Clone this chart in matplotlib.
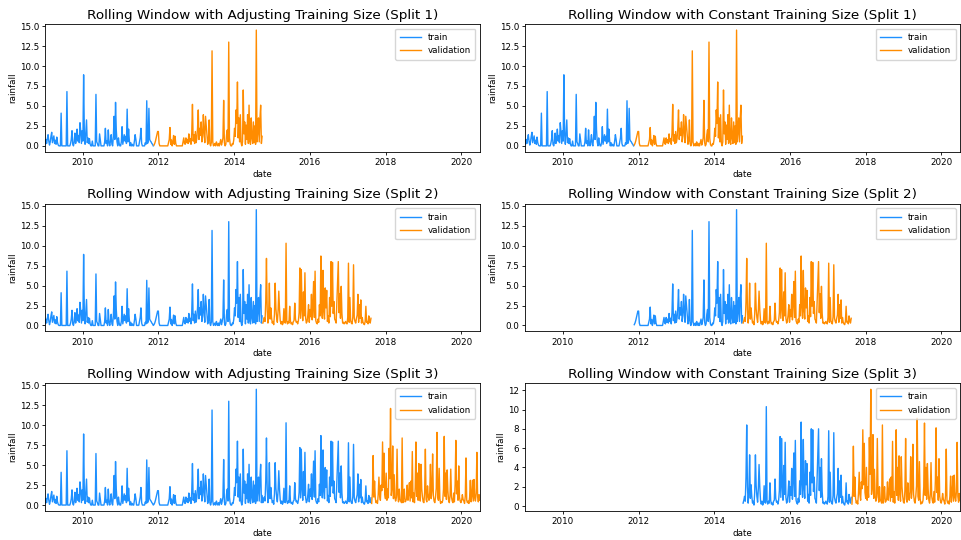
import matplotlib
matplotlib.use("Agg")
import matplotlib.pyplot as plt
import matplotlib.dates as mdates
import numpy as np
import pandas as pd

# Weekly mean rainfall, in four consecutive 150-week blocks
start_date = "2009-01-04"
block1 = [0.2, 0.8, 0.3, 0.9, 1.4, 0.6, 0.1, 0.5, 1.2, 1.7, 0.4, 0.8, 1.25, 0.3, 0.7, 0.2, 1.1, 0.4, 0.1, 0.0,
          0.0, 0.0, 4.1, 0.0, 0.0, 0.0, 0.0, 0.0, 0.0, 0.0, 6.8, 0.0, 0.0, 0.0, 0.0, 0.3, 0.8, 1.9, 0.2, 0.0,
          0.5, 1.6, 0.3, 0.9, 2.1, 0.6, 1.3, 0.4, 2.9, 1.8, 0.3, 1.9, 0.6, 8.9, 1.5, 0.2, 1.8, 3.25, 0.4, 1.0,
          0.3, 0.9, 0.2, 0.0, 0.0, 0.6, 0.0, 0.0, 0.0, 0.0, 6.45, 0.5, 0.3, 0.0, 0.0, 1.5, 0.8, 0.0, 0.0, 0.0,
          0.0, 0.0, 0.5, 2.2, 0.3, 0.6, 0.0, 2.0, 0.4, 0.0, 0.6, 1.4, 0.2, 0.0, 1.2, 3.7, 0.8, 5.45, 2.0, 0.5,
          0.0, 1.0, 0.3, 0.0, 0.0, 0.5, 2.4, 0.2, 0.8, 1.4, 0.6, 1.2, 0.3, 4.6, 0.5, 2.1, 0.7, 0.0, 0.4, 0.0,
          0.2, 0.0, 0.0, 0.6, 1.4, 0.8, 0.0, 0.0, 0.0, 0.0, 0.5, 1.0, 2.2, 0.3, 0.0, 0.0, 0.0, 0.0, 0.4, 0.2,
          5.65, 0.3, 0.5, 4.7, 0.8, 0.6, 0.5, 0.3, 0.2, 0.0]
block2 = [0.1, 0.3, 0.6, 1.0, 1.4, 1.8, 1.8, 0.3, 0.0, 0.0, 0.0, 0.0, 0.0, 0.0, 0.0, 0.0, 0.0, 0.0, 0.0, 0.0,
          0.4, 0.8, 2.3, 0.2, 0.75, 0.0, 0.5, 1.3, 0.2, 1.2, 0.3, 0.0, 0.0, 0.0, 0.0, 0.0, 0.0, 0.0, 0.0, 0.0,
          0.5, 1.0, 0.3, 0.2, 1.0, 0.4, 0.8, 0.3, 1.5, 0.5, 0.9, 0.2, 1.6, 5.2, 0.6, 1.4, 0.3, 1.8, 0.4, 0.9,
          2.2, 4.5, 0.8, 2.2, 1.3, 3.0, 0.5, 1.2, 3.9, 1.7, 0.4, 3.7, 2.5, 1.4, 0.2, 0.6, 3.25, 0.3, 0.0, 0.4,
          11.9, 0.5, 0.0, 0.1, 0.3, 0.0, 0.5, 0.2, 0.0, 0.3, 0.0, 0.4, 0.8, 0.1, 0.5, 1.0, 5.7, 0.4, 0.0, 0.2,
          1.4, 2.0, 0.5, 13.0, 1.0, 0.2, 0.0, 0.0, 0.3, 0.2, 0.8, 2.2, 1.2, 4.5, 2.8, 8.0, 1.0, 3.5, 0.5, 3.9,
          0.4, 0.0, 0.5, 7.0, 1.5, 3.0, 0.2, 2.6, 0.8, 3.9, 0.3, 5.1, 0.6, 0.2, 3.5, 1.0, 0.3, 3.0, 0.4, 2.5,
          0.2, 14.5, 0.5, 1.8, 3.5, 0.5, 3.4, 5.1, 0.3, 1.2]
block3 = [0.3, 0.6, 1.0, 0.5, 3.0, 8.4, 2.0, 0.3, 1.5, 5.3, 0.8, 2.2, 1.0, 0.3, 0.5, 0.1, 1.4, 5.3, 2.1, 1.0,
          0.4, 1.8, 4.3, 2.0, 0.6, 0.2, 0.5, 0.1, 0.3, 2.1, 0.4, 0.3, 10.3, 0.5, 0.2, 0.5, 0.3, 2.4, 0.6, 0.2,
          0.3, 0.1, 0.5, 0.6, 2.8, 0.8, 0.4, 0.5, 0.2, 0.6, 1.6, 7.2, 0.9, 7.0, 2.1, 0.6, 4.2, 1.2, 6.6, 0.9,
          0.3, 0.5, 1.3, 2.6, 0.4, 2.0, 1.1, 3.9, 0.7, 2.8, 5.5, 1.0, 6.8, 0.6, 0.3, 0.2, 0.8, 0.4, 2.6, 1.2,
          8.7, 2.3, 0.9, 6.9, 1.8, 0.8, 4.7, 2.2, 4.4, 0.5, 1.2, 0.3, 3.5, 1.1, 8.0, 2.4, 7.9, 1.5, 3.0, 0.8,
          0.6, 0.3, 3.0, 6.0, 8.0, 1.6, 4.0, 0.9, 4.9, 1.5, 0.3, 0.4, 0.2, 0.3, 0.5, 0.3, 0.2, 1.0, 7.8, 0.4,
          3.5, 0.6, 0.3, 0.2, 1.1, 7.6, 0.9, 0.5, 0.3, 0.9, 1.3, 3.9, 0.4, 2.6, 0.9, 3.2, 0.3, 1.0, 0.4, 0.2,
          0.1, 0.5, 2.4, 0.4, 0.5, 0.2, 1.2, 0.6, 0.3, 0.9]
block4 = [0.2, 1.5, 6.2, 1.0, 3.0, 0.8, 0.3, 0.5, 0.2, 1.3, 3.5, 1.2, 0.6, 2.5, 1.8, 7.9, 2.2, 6.5, 1.4, 0.8,
          4.0, 0.6, 2.0, 0.9, 7.1, 3.3, 12.1, 1.2, 2.0, 7.4, 0.8, 3.8, 1.0, 0.5, 0.9, 7.0, 1.3, 0.4, 2.0, 0.7,
          0.5, 0.3, 8.4, 0.3, 0.9, 2.0, 0.4, 0.5, 0.8, 2.5, 0.6, 1.4, 2.8, 0.5, 3.0, 0.9, 6.7, 0.4, 1.5, 0.3,
          2.2, 7.9, 1.1, 4.0, 0.6, 5.2, 1.3, 0.5, 5.1, 2.0, 1.0, 0.4, 0.3, 1.6, 7.0, 0.7, 0.4, 2.4, 1.1, 0.6,
          1.5, 5.1, 0.8, 1.8, 6.4, 1.2, 0.5, 0.3, 1.0, 2.1, 9.1, 1.0, 0.6, 4.6, 0.8, 0.2, 0.4, 0.3, 0.6, 2.0,
          8.6, 1.1, 4.0, 0.7, 4.4, 1.8, 0.6, 0.3, 1.2, 4.5, 1.0, 0.5, 0.3, 1.5, 0.4, 2.6, 8.1, 1.4, 3.0, 0.6,
          4.9, 1.0, 0.5, 0.3, 0.6, 1.3, 0.7, 0.5, 0.2, 1.1, 5.9, 0.6, 0.3, 0.5, 0.2, 1.0, 3.1, 0.4, 1.2, 3.1,
          0.5, 3.2, 0.9, 0.5, 1.5, 6.6, 1.0, 0.4, 1.3, 0.6]

blocks = [block1, block2, block3, block4]
n_total = sum(len(b) for b in blocks)
dates = pd.date_range(start_date, periods=n_total, freq="7D")
series = pd.Series(np.concatenate(blocks), index=dates)

bounds = np.cumsum([0] + [len(b) for b in blocks])

train_color = "#1E90FF"
val_color = "#FF8C00"

fs = 6.3
fig, axes = plt.subplots(3, 2, figsize=(9.61, 5.40), dpi=100)
fig.subplots_adjust(left=0.047, right=0.999, top=0.955, bottom=0.054, wspace=0.105, hspace=0.41)

for k in range(1, 4):
    val = series.iloc[bounds[k]:bounds[k + 1]]
    for col, (mode, t0) in enumerate([("Adjusting", 0), ("Constant", bounds[k - 1])]):
        ax = axes[k - 1, col]
        train = series.iloc[t0:bounds[k]]
        ax.plot(train.index, train.values, color=train_color, lw=1.0, label="train")
        ax.plot(val.index, val.values, color=val_color, lw=1.0, label="validation")
        ax.set_xlim(dates[0], dates[-1])
        ax.xaxis.set_major_locator(mdates.YearLocator(2))
        ax.xaxis.set_major_formatter(mdates.DateFormatter("%Y"))
        ax.set_title(f"Rolling Window with {mode} Training Size (Split {k})", fontsize=9.7, pad=4)
        ax.set_xlabel("date", fontsize=fs, labelpad=2)
        ax.set_ylabel("rainfall", fontsize=fs, labelpad=2)
        ax.tick_params(labelsize=fs, length=2.5, width=0.6, pad=2)
        for s in ax.spines.values():
            s.set_linewidth(0.6)
        ax.legend(loc="upper right", fontsize=fs, handlelength=2.4, borderpad=0.5, labelspacing=0.5)

fig.savefig("out.png", dpi=100)
